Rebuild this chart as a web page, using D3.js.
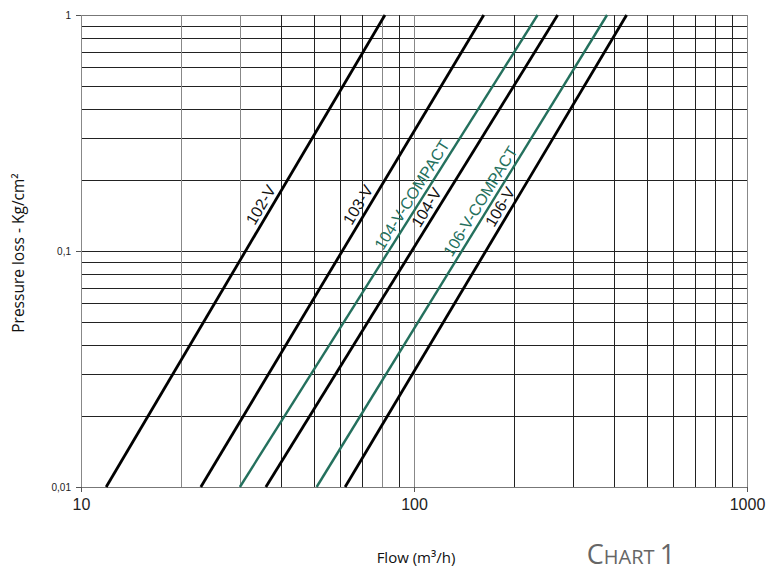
<!DOCTYPE html>
<html>
<head>
<meta charset="utf-8">
<script src="https://cdn.jsdelivr.net/npm/d3@7"></script>
<style>
  body { margin: 0; background: #fff; }
  svg { display: block; }
</style>
</head>
<body>
<div id="chart"></div>
<script>
// Pressure loss vs flow — log/log, one straight line per model
const models = ["102-V", "103-V", "104-V-COMPACT", "104-V", "106-V-COMPACT", "106-V"];
const compact = [false, false, true, false, true, false];
// flow (m3/h) where each line crosses 0.01 and 1 kg/cm2
const flowAtLow = [11.9, 22.9, 30.0, 35.9, 51.0, 62.1];
const flowAtHigh = [81.8, 162, 235, 270, 380, 435];
const pressureEnds = [0.01, 1];
// pressure where the model name sits along its line
const labelPressure = [0.149, 0.149, 0.164, 0.145, 0.154, 0.146];

const xTicks = [10, 100, 1000];
const xTickLabels = ["10", "100", "1000"];
const yTicks = [0.01, 0.1, 1];
const yTickLabels = ["0,01", "0,1", "1"];
const greyVerticals = [10, 20, 30, 80, 100, 1000];

(function () {
  const W = 766, H = 571;
  const margin = { top: 15, right: 19, bottom: 84, left: 81 };
  const width = W - margin.left - margin.right;
  const height = H - margin.top - margin.bottom;

  const svg = d3.select("#chart").append("svg")
    .attr("width", W).attr("height", H);
  const g = svg.append("g")
    .attr("transform", `translate(${margin.left},${margin.top})`);

  const x = d3.scaleLog().domain([10, 1000]).range([0, width]);
  const y = d3.scaleLog().domain([0.01, 1]).range([height, 0]);

  // grid
  g.append("g").selectAll("line")
    .data(y.ticks())
    .join("line")
    .attr("x1", 0).attr("x2", width)
    .attr("y1", d => Math.round(y(d)) + 0.5).attr("y2", d => Math.round(y(d)) + 0.5)
    .attr("stroke", d => (d === 1 || d === 0.01) ? "#777" : "#222")
    .attr("stroke-width", 1);

  g.append("g").selectAll("line")
    .data(x.ticks())
    .join("line")
    .attr("y1", 0).attr("y2", height)
    .attr("x1", d => Math.round(x(d)) + 0.5).attr("x2", d => Math.round(x(d)) + 0.5)
    .attr("stroke", d => greyVerticals.some(v => Math.abs(v - d) < 1e-6) ? "#888" : "#222")
    .attr("stroke-width", 1);

  // axes (just the small outer ticks + labels)
  const yAxis = g.append("g")
    .call(d3.axisLeft(y).tickValues(yTicks).tickSize(5).tickFormat((d, i) => yTickLabels[i]));
  yAxis.select(".domain").remove();
  yAxis.selectAll(".tick line").attr("stroke", "#555");
  yAxis.selectAll("text")
    .attr("font-family", "Liberation Sans, Arial, sans-serif")
    .attr("font-size", "10px").attr("fill", "#222")
    .attr("dx", "-2");

  const xAxis = g.append("g")
    .attr("transform", `translate(0,${height})`)
    .call(d3.axisBottom(x).tickValues(xTicks).tickSize(5).tickFormat((d, i) => xTickLabels[i]));
  xAxis.select(".domain").remove();
  xAxis.selectAll(".tick line").attr("stroke", "#555");
  xAxis.selectAll("text")
    .attr("font-family", "Liberation Sans, Arial, sans-serif")
    .attr("font-size", "16px").attr("fill", "#222")
    .attr("dy", "0.95em");

  // lines
  const line = d3.line().x(d => x(d[0])).y(d => y(d[1]));
  const green = "#24705d";

  models.forEach((name, i) => {
    const pts = [[flowAtLow[i], pressureEnds[0]], [flowAtHigh[i], pressureEnds[1]]];
    const col = compact[i] ? green : "#000";

    g.append("path")
      .datum(pts)
      .attr("d", line)
      .attr("fill", "none")
      .attr("stroke", col)
      .attr("stroke-width", compact[i] ? 2.4 : 2.8);

    // label position along the straight line (in log space)
    const lp0 = Math.log10(pressureEnds[0]), lp1 = Math.log10(pressureEnds[1]);
    const lf0 = Math.log10(flowAtLow[i]), lf1 = Math.log10(flowAtHigh[i]);
    const t = (Math.log10(labelPressure[i]) - lp0) / (lp1 - lp0);
    const f = Math.pow(10, lf0 + t * (lf1 - lf0));
    const px = x(f), py = y(labelPressure[i]);
    const ang = Math.atan2(y(pts[1][1]) - y(pts[0][1]), x(pts[1][0]) - x(pts[0][0])) * 180 / Math.PI;

    g.append("text")
      .attr("transform", `translate(${px},${py}) rotate(${ang})`)
      .attr("text-anchor", "middle")
      .attr("dy", "-0.3em")
      .attr("font-family", "Liberation Sans, Arial, sans-serif")
      .attr("font-size", "16px")
      .attr("fill", compact[i] ? green : "#111")
      .text(name);
  });

  // titles
  svg.append("text")
    .attr("transform", `translate(24,${margin.top + height / 2 + 2}) rotate(-90)`)
    .attr("text-anchor", "middle")
    .attr("font-family", "Open Sans, sans-serif")
    .attr("font-size", "15.5px").attr("fill", "#111")
    .text("Pressure loss - Kg/cm²");

  svg.append("text")
    .attr("x", 416).attr("y", 563)
    .attr("text-anchor", "middle")
    .attr("font-family", "Open Sans, sans-serif")
    .attr("font-size", "15px").attr("fill", "#111")
    .text("Flow (m³/h)");

  const chartTitle = svg.append("text")
    .attr("x", 631).attr("y", 564)
    .attr("text-anchor", "middle")
    .attr("font-family", "Open Sans, sans-serif")
    .attr("fill", "#666");
  chartTitle.append("tspan").attr("font-size", "27px").text("C");
  chartTitle.append("tspan").attr("font-size", "20px").text("HART ");
  chartTitle.append("tspan").attr("font-size", "27px").text("1");
})();
</script>
</body>
</html>
